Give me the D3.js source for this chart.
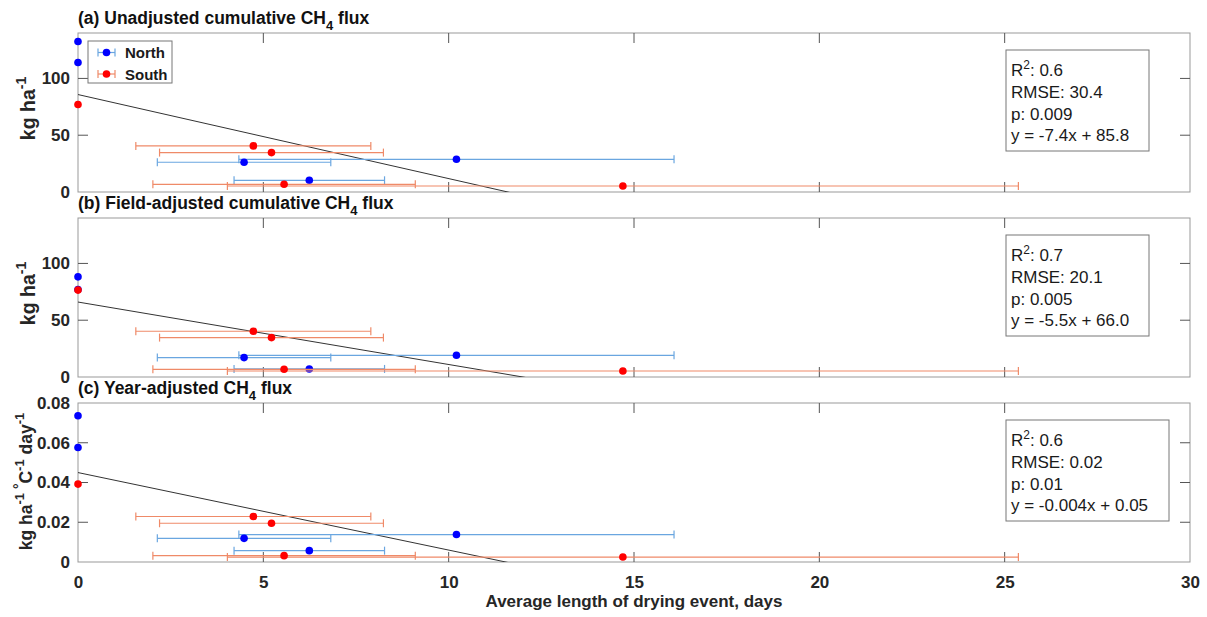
<!DOCTYPE html>
<html>
<head>
<meta charset="utf-8">
<script src="https://cdnjs.cloudflare.com/ajax/libs/d3/7.8.5/d3.min.js"></script>
<style>
  body { margin: 0; background: #fff; }
  text { font-family: "Liberation Sans", Arial, sans-serif; }
</style>
</head>
<body>
<svg id="chart" width="1207" height="617"></svg>
<script>
// sites and drying lengths (days) with their error half-widths
const site = ["North", "North", "South", "South", "South", "North", "North", "North", "South", "South"];
const dryDays = [0, 0, 0, 4.73, 5.22, 4.48, 10.21, 6.24, 5.56, 14.7];
const dryErr = [0, 0, 0, 3.17, 3.02, 2.34, 5.87, 2.03, 3.54, 10.67];

// CH4 flux for each panel
const fluxUnadjusted = [132.5, 114, 77, 40.6, 34.7, 26.2, 28.8, 10.3, 6.8, 5.3];
const fluxField = [88.2, 77, 76.5, 40.3, 34.7, 17.1, 19.1, 7.1, 6.8, 5.3];
const fluxYear = [0.0736, 0.0576, 0.0392, 0.0229, 0.0195, 0.0119, 0.0138, 0.0057, 0.0032, 0.0025];

const fitSlope = [-7.4, -5.5, -0.0039];
const fitIntercept = [85.8, 66.0, 0.045];

const statR2 = ["0.6", "0.7", "0.6"];
const statRMSE = ["30.4", "20.1", "0.02"];
const statP = ["0.009", "0.005", "0.01"];
const statEq = ["y = -7.4x + 85.8", "y = -5.5x + 66.0", "y = -0.004x + 0.05"];

const titleStart = ["(a) Unadjusted cumulative CH", "(b) Field-adjusted cumulative CH", "(c) Year-adjusted CH"];
const yDomains = [[0, 140], [0, 140], [0, 0.08]];
const yTicks = [[0, 50, 100], [0, 50, 100], [0, 0.02, 0.04, 0.06, 0.08]];
const xTicks = [0, 5, 10, 15, 20, 25, 30];

const siteColour = { North: "#0000ff", South: "#ff0000" };
const barColour = { North: "#6aa6e0", South: "#ef8a68" };

const svg = d3.select("#chart");
const left = 78, right = 1190;
const panelTops = [33, 218, 403];
const panelH = 159;
const tickLen = 10;

const x = d3.scaleLinear().domain([0, 30]).range([left, right]);

const panels = [fluxUnadjusted, fluxField, fluxYear];

panels.forEach((flux, i) => {
    const top = panelTops[i], bottom = top + panelH;
    const y = d3.scaleLinear().domain(yDomains[i]).range([bottom, top]);
    const g = svg.append("g");

    g.append("clipPath").attr("id", "clip" + i)
        .append("rect").attr("x", left).attr("y", top).attr("width", right - left).attr("height", panelH);

    // frame
    g.append("rect")
        .attr("x", left).attr("y", top).attr("width", right - left).attr("height", panelH)
        .attr("fill", "none").attr("stroke", "#999").attr("stroke-width", 1);

    // ticks, inward on all sides
    xTicks.slice(1, -1).forEach(t => {
        g.append("line").attr("x1", x(t)).attr("x2", x(t)).attr("y1", bottom).attr("y2", bottom - tickLen).attr("stroke", "#555");
        g.append("line").attr("x1", x(t)).attr("x2", x(t)).attr("y1", top).attr("y2", top + tickLen).attr("stroke", "#555");
    });
    yTicks[i].forEach(t => {
        if (y(t) > top + 1 && y(t) < bottom - 1) {
            g.append("line").attr("x1", left).attr("x2", left + tickLen).attr("y1", y(t)).attr("y2", y(t)).attr("stroke", "#555");
            g.append("line").attr("x1", right).attr("x2", right - tickLen).attr("y1", y(t)).attr("y2", y(t)).attr("stroke", "#555");
        }
    });

    const yAxis = d3.axisLeft(y).tickValues(yTicks[i]).tickSize(0).tickPadding(8)
        .tickFormat(d => d === 0 ? "0" : (i === 2 ? d3.format(".2f")(d) : d3.format("d")(d)));
    const ya = g.append("g").attr("transform", `translate(${left},0)`).call(yAxis);
    ya.select(".domain").remove();
    ya.selectAll("text").attr("font-size", 17).attr("font-weight", "bold").attr("fill", "#262626")
        .attr("font-family", "Liberation Sans, Arial, sans-serif");

    if (i === 2) {
        const xAxis = d3.axisBottom(x).tickValues(xTicks).tickSize(0).tickPadding(14);
        const xa = g.append("g").attr("transform", `translate(0,${bottom})`).call(xAxis);
        xa.select(".domain").remove();
        xa.selectAll("text").attr("font-size", 17).attr("font-weight", "bold").attr("fill", "#262626")
            .attr("font-family", "Liberation Sans, Arial, sans-serif");
    }

    // title
    const title = g.append("text").attr("x", left).attr("y", top - 9)
        .attr("font-size", 17.5).attr("font-weight", "bold").attr("fill", "#111");
    title.append("tspan").text(titleStart[i]);
    title.append("tspan").attr("font-size", 13).attr("dy", 6).text("4");
    title.append("tspan").attr("dy", -6).text(" flux");

    // y label
    const fs = i === 2 ? 17.5 : 19.5, sup = i === 2 ? 13 : 14, sh = i === 2 ? 8 : 9;
    const yl = g.append("text")
        .attr("transform", `translate(${i === 2 ? 32 : 35},${top + panelH / 2 - (i === 2 ? 1 : 4)}) rotate(-90)`)
        .attr("text-anchor", "middle").attr("font-size", fs).attr("font-weight", "bold").attr("fill", "#262626");
    yl.append("tspan").text("kg ha");
    yl.append("tspan").attr("font-size", sup).attr("dy", -sh).text("-1");
    if (i === 2) {
        yl.append("tspan").attr("font-size", 14).attr("dy", 0).text(" °");
        yl.append("tspan").attr("dy", sh).text("C");
        yl.append("tspan").attr("font-size", sup).attr("dy", -sh).text("-1");
        yl.append("tspan").attr("dy", sh).text(" day");
        yl.append("tspan").attr("font-size", sup).attr("dy", -sh).text("-1");
    }

    // fit line
    g.append("path")
        .attr("clip-path", `url(#clip${i})`)
        .attr("d", d3.line()([[x(0), y(fitIntercept[i])], [x(30), y(fitIntercept[i] + fitSlope[i] * 30)]]))
        .attr("stroke", "#333").attr("stroke-width", 1).attr("fill", "none");

    // points: North first, South on top
    const pts = d3.range(site.length).map(k => ({ site: site[k], x: dryDays[k], e: dryErr[k], y: flux[k] }));
    ["North", "South"].forEach(s => {
        const sp = pts.filter(p => p.site === s);
        const eg = g.append("g").attr("stroke", barColour[s]).attr("stroke-width", 1.2);
        sp.filter(p => p.e > 0).forEach(p => {
            const yy = y(p.y);
            eg.append("line").attr("x1", x(p.x - p.e)).attr("x2", x(p.x + p.e)).attr("y1", yy).attr("y2", yy);
            eg.append("line").attr("x1", x(p.x - p.e)).attr("x2", x(p.x - p.e)).attr("y1", yy - 4).attr("y2", yy + 4);
            eg.append("line").attr("x1", x(p.x + p.e)).attr("x2", x(p.x + p.e)).attr("y1", yy - 4).attr("y2", yy + 4);
        });
        g.selectAll(".dot-" + s).data(sp).join("circle")
            .attr("class", "dot-" + s)
            .attr("cx", d => x(d.x)).attr("cy", d => y(d.y)).attr("r", 3.8)
            .attr("fill", siteColour[s]);
    });

    // stats box
    const bw = i === 2 ? 163 : 143;
    const bx = 1006, by = top + 17;
    g.append("rect").attr("x", bx).attr("y", by).attr("width", bw).attr("height", 101)
        .attr("fill", "#fff").attr("stroke", "#777").attr("stroke-width", 1);
    const st = g.append("g").attr("font-size", 17).attr("fill", "#1a1a1a");
    const r2 = st.append("text").attr("x", bx + 5).attr("y", by + 26);
    r2.append("tspan").text("R");
    r2.append("tspan").attr("font-size", 12).attr("dy", -7).text("2");
    r2.append("tspan").attr("dy", 7).text(": " + statR2[i]);
    st.append("text").attr("x", bx + 5).attr("y", by + 48).text("RMSE: " + statRMSE[i]);
    st.append("text").attr("x", bx + 5).attr("y", by + 70).text("p: " + statP[i]);
    st.append("text").attr("x", bx + 5).attr("y", by + 91).text(statEq[i]);

    // legend in panel (a)
    if (i === 0) {
        const lg = g.append("g");
        lg.append("rect").attr("x", 88).attr("y", 41).attr("width", 84).attr("height", 42)
            .attr("fill", "#fff").attr("stroke", "#777");
        ["North", "South"].forEach((s, k) => {
            const ly = 52.5 + k * 21.5;
            const eg = lg.append("g").attr("stroke", barColour[s]).attr("stroke-width", 1.2);
            eg.append("line").attr("x1", 98).attr("x2", 115).attr("y1", ly).attr("y2", ly);
            eg.append("line").attr("x1", 98).attr("x2", 98).attr("y1", ly - 4).attr("y2", ly + 4);
            eg.append("line").attr("x1", 115).attr("x2", 115).attr("y1", ly - 4).attr("y2", ly + 4);
            lg.append("circle").attr("cx", 106.5).attr("cy", ly).attr("r", 3.8).attr("fill", siteColour[s]);
            lg.append("text").attr("x", 125).attr("y", ly + 5.5).attr("font-size", 15).attr("font-weight", "bold")
                .attr("fill", "#1a1a1a").text(s);
        });
    }
});

svg.append("text").attr("x", (left + right) / 2).attr("y", 607)
    .attr("text-anchor", "middle").attr("font-size", 17).attr("font-weight", "bold").attr("fill", "#262626")
    .text("Average length of drying event, days");
</script>
</body>
</html>
